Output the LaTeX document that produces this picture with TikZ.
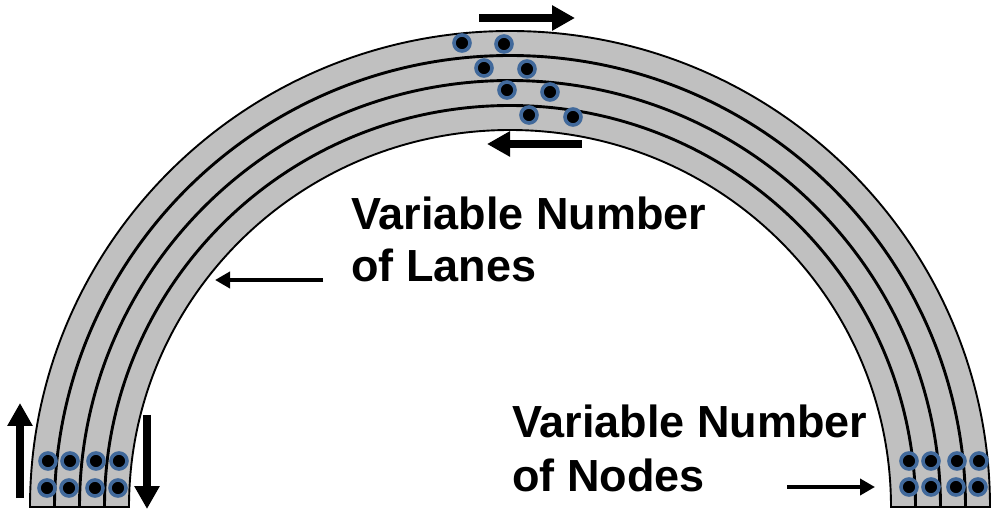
\documentclass[tikz,border=0pt]{standalone}
\usepackage{fontspec}
\setmainfont{Liberation Sans}
\usetikzlibrary{arrows.meta}
\definecolor{lanegray}{HTML}{C0C0C0}
\definecolor{ringblue}{HTML}{41699B}
\begin{document}
\begin{tikzpicture}[x=1pt,y=1pt,
  lane/.style={fill=lanegray,draw=black,line width=1.9pt},
  car/.style={circle,fill=black,draw=ringblue,line width=3.6pt,minimum size=16pt,inner sep=0pt},
  flow/.style={line width=8.5pt,-{Triangle[length=23pt,width=24pt]}},
  pointer/.style={line width=4pt,-{Triangle[length=15pt,width=16pt]}},
  caption/.style={font=\bfseries\fontsize{45}{53}\selectfont,anchor=base west,inner sep=0pt}]
\useasboundingbox (0,0) rectangle (991,509);
\clip (0,0) rectangle (991,509);
\coordinate (c) at (510,2);
% four concentric lanes of the arch, outermost first
\foreach \k in {0,...,3}{
  \pgfmathsetmacro\ox{480-25*\k}
  \pgfmathsetmacro\oy{476-25*\k}
  \pgfmathsetmacro\ix{\ox-24}
  \pgfmathsetmacro\iy{\oy-24}
  \draw[lane] (c) ++(\ox,0) arc[start angle=0,end angle=180,x radius=\ox,y radius=\oy]
    -- ++(24,0) arc[start angle=180,end angle=0,x radius=\ix,y radius=\iy] -- cycle;
}
% nodes sitting on the lanes
\foreach \x/\y [count=\i] in {48/48,70/48,96/48,119/48,47/21,69/21,95/21,118/21,
  909/48,931/48,957/48,979/48,909/22,931/22,956/22,978/22,
  462/466,504/465,484/441,527/440,507/419,550/417,529/394,573/392}
  \node[car] (car\i) at (\x,\y) {};
% direction of travel
\coordinate (topA) at (479,491); \coordinate (topB) at (575,491);
\coordinate (midA) at (582,365); \coordinate (midB) at (487,365);
\coordinate (upA) at (20,11);   \coordinate (upB) at (20,106);
\coordinate (dnA) at (147,94);  \coordinate (dnB) at (147,0);
\draw[flow] (topA) -- (topB);
\draw[flow] (midA) -- (midB);
\draw[flow] (upA) -- (upB);
\draw[flow] (dnA) -- (dnB);
% captions
\node[caption] (lanes1) at (351,279) {Variable Number};
\node[caption] (lanes2) at (351,227) {of Lanes};
\node[caption] (nodes1) at (512,71) {Variable Number};
\node[caption] (nodes2) at (512,17.5) {of Nodes};
\coordinate (lanesA) at (323,229); \coordinate (lanesB) at (215,229);
\coordinate (nodesA) at (787,22);  \coordinate (nodesB) at (875,22);
\draw[pointer] (lanesA) -- (lanesB);
\draw[pointer] (nodesA) -- (nodesB);
\end{tikzpicture}
\end{document}
